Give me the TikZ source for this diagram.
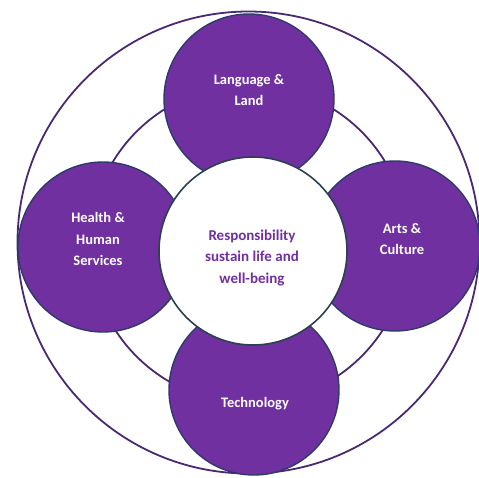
\documentclass[tikz,border=0pt]{standalone}
\usepackage{fontspec}
\setmainfont{Carlito}
\definecolor{vpurple}{HTML}{7030A0}
\definecolor{ringline}{HTML}{4A2872}
\definecolor{satline}{HTML}{2E3A6E}
\definecolor{hubline}{HTML}{2B4050}
\tikzset{
  ring/.style={circle, draw=ringline, line width=1.8pt, inner sep=0pt},
  satellite/.style={circle, fill=vpurple, draw=satline, line width=1.4pt, minimum size=170pt, inner sep=0pt},
  hub/.style={circle, fill=white, draw=hubline, line width=1.6pt, minimum size=188pt, inner sep=0pt},
  sattext/.style={text=white, font=\bfseries\fontsize{14.5}{21.5}\selectfont, align=center},
  hubtext/.style={text=vpurple, font=\bfseries\fontsize{15}{21.5}\selectfont, align=center}
}
\begin{document}
\begin{tikzpicture}[x=1pt,y=-1pt]
\useasboundingbox[fill=white] (0,0) rectangle (479,477);
\node[ring, minimum size=462pt] (outer) at (248.5,242.5) {};
\node[ring, minimum size=318pt] (middle) at (249,244) {};
\node[satellite] (top) at (249,99) {};
\node[satellite] (left) at (103,247) {};
\node[satellite] (right) at (395,246) {};
\node[satellite] (bottom) at (254,390) {};
\node[hub] (hub) at (253,251) {};
\node[sattext] (toptext) at (249,90) {Language \&\\Land};
\node[sattext] (lefttext) at (98,239) {Health \&\\Human\\Services};
\node[sattext] (righttext) at (402,239) {Arts \&\\Culture};
\node[sattext] (bottomtext) at (255,404) {Technology};
\node[hubtext] (hubtext) at (252,258) {Responsibility\\sustain life and\\well-being};
\end{tikzpicture}
\end{document}
